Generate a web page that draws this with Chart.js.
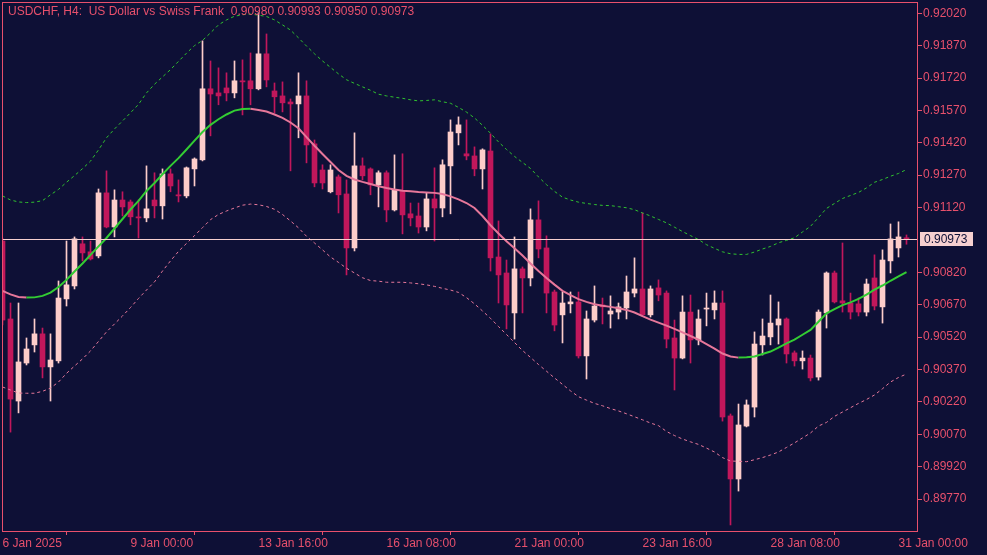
<!DOCTYPE html>
<html>
<head>
<meta charset="utf-8">
<title>USDCHF H4</title>
<script src="https://cdn.jsdelivr.net/npm/chart.js@4.4.1/dist/chart.umd.min.js"></script>
<style>
  html, body { margin: 0; padding: 0; background: #0e1036; }
  canvas { display: block; }
</style>
</head>
<body>
<canvas id="chart" width="987" height="555"></canvas>
<script>
// header text shown in the top left corner
const title = 'USDCHF, H4:  US Dollar vs Swiss Frank  0.90980 0.90993 0.90950 0.90973';

// H4 bars, 6 Jan 2025 08:00 .. 31 Jan 2025 04:00 (one value per bar)
const open = [
  0.90965, 0.90604, 0.90224, 0.90400, 0.90484, 0.90535, 0.90382, 0.90410, 0.90697, 0.90757,
  0.90952, 0.90915, 0.90896, 0.91188, 0.91030, 0.91155, 0.91146, 0.91077, 0.91072, 0.91155,
  0.91128, 0.91276, 0.91179, 0.91174, 0.91299, 0.91341, 0.91670, 0.91651, 0.91674, 0.91651,
  0.91707, 0.91707, 0.91670, 0.91832, 0.91660, 0.91637, 0.91609, 0.91600, 0.91637, 0.91415,
  0.91294, 0.91193, 0.91262, 0.91183, 0.90933, 0.91313, 0.91299, 0.91225, 0.91281, 0.91109,
  0.91197, 0.91091, 0.91081, 0.91030, 0.91160, 0.91118, 0.91313, 0.91466, 0.91369, 0.91359,
  0.91299, 0.91382, 0.90891, 0.90817, 0.90632, 0.90836, 0.90794, 0.91063, 0.90933, 0.90729,
  0.90623, 0.90674, 0.90683, 0.90433, 0.90599, 0.90669, 0.90627, 0.90636, 0.90655, 0.90724,
  0.90743, 0.90623, 0.90748, 0.90724, 0.90516, 0.90423, 0.90636, 0.90507, 0.90650, 0.90646,
  0.90678, 0.90155, 0.89863, 0.90108, 0.90196, 0.90484, 0.90521, 0.90576, 0.90604, 0.90447,
  0.90410, 0.90423, 0.90335, 0.90632, 0.90817, 0.90688, 0.90678, 0.90674, 0.90636, 0.90794,
  0.90660, 0.90873, 0.90933, 0.90980
];
const high = [
  0.90979, 0.90678, 0.90678, 0.90516, 0.90604, 0.90562, 0.90535, 0.90780, 0.90965, 0.90984,
  0.90984, 0.90965, 0.91206, 0.91290, 0.91202, 0.91193, 0.91155, 0.91155, 0.91313, 0.91281,
  0.91299, 0.91299, 0.91248, 0.91308, 0.91350, 0.91892, 0.91799, 0.91767, 0.91744, 0.91799,
  0.91804, 0.91836, 0.92022, 0.91924, 0.91697, 0.91702, 0.91623, 0.91744, 0.91707, 0.91433,
  0.91318, 0.91318, 0.91271, 0.91248, 0.91466, 0.91350, 0.91304, 0.91290, 0.91290, 0.91364,
  0.91369, 0.91141, 0.91141, 0.91188, 0.91304, 0.91341, 0.91526, 0.91540, 0.91526, 0.91401,
  0.91392, 0.91461, 0.91058, 0.90877, 0.90984, 0.90845, 0.91114, 0.91151, 0.90989, 0.90738,
  0.90729, 0.90729, 0.90729, 0.90641, 0.90757, 0.90701, 0.90711, 0.90678, 0.90803, 0.90887,
  0.91095, 0.90757, 0.90785, 0.90734, 0.90599, 0.90711, 0.90715, 0.90646, 0.90724, 0.90734,
  0.90734, 0.90164, 0.90210, 0.90229, 0.90544, 0.90604, 0.90715, 0.90683, 0.90609, 0.90456,
  0.90456, 0.90437, 0.90646, 0.90822, 0.90826, 0.90956, 0.90724, 0.90701, 0.90789, 0.90901,
  0.90924, 0.91044, 0.91054, 0.90993
];
const low = [
  0.90576, 0.90080, 0.90169, 0.90391, 0.90451, 0.90331, 0.90224, 0.90400, 0.90664, 0.90743,
  0.90873, 0.90877, 0.90887, 0.91026, 0.90984, 0.91081, 0.91040, 0.90979, 0.91054, 0.91072,
  0.91067, 0.91193, 0.91146, 0.91165, 0.91220, 0.91336, 0.91452, 0.91596, 0.91614, 0.91628,
  0.91549, 0.91596, 0.91665, 0.91679, 0.91558, 0.91563, 0.91290, 0.91443, 0.91327, 0.91216,
  0.91206, 0.91188, 0.91095, 0.90808, 0.90919, 0.91248, 0.91179, 0.91123, 0.91054, 0.91104,
  0.90998, 0.91035, 0.91002, 0.91012, 0.90965, 0.91077, 0.91091, 0.91410, 0.91341, 0.91267,
  0.91206, 0.90826, 0.90678, 0.90558, 0.90511, 0.90632, 0.90757, 0.90887, 0.90632, 0.90549,
  0.90493, 0.90632, 0.90423, 0.90326, 0.90590, 0.90581, 0.90562, 0.90604, 0.90604, 0.90706,
  0.90618, 0.90613, 0.90688, 0.90470, 0.90275, 0.90419, 0.90400, 0.90484, 0.90572, 0.90604,
  0.90131, 0.89650, 0.89807, 0.90104, 0.90150, 0.90437, 0.90484, 0.90488, 0.90400, 0.90386,
  0.90372, 0.90317, 0.90321, 0.90562, 0.90678, 0.90636, 0.90604, 0.90618, 0.90618, 0.90646,
  0.90585, 0.90817, 0.90891, 0.90950
];
const close = [
  0.90599, 0.90233, 0.90405, 0.90465, 0.90535, 0.90382, 0.90414, 0.90701, 0.90762, 0.90975,
  0.90910, 0.90882, 0.91188, 0.91030, 0.91155, 0.91123, 0.91077, 0.91072, 0.91114, 0.91128,
  0.91276, 0.91220, 0.91174, 0.91304, 0.91345, 0.91670, 0.91646, 0.91637, 0.91651, 0.91707,
  0.91702, 0.91670, 0.91832, 0.91711, 0.91633, 0.91605, 0.91600, 0.91637, 0.91410, 0.91234,
  0.91234, 0.91294, 0.91179, 0.90933, 0.91313, 0.91267, 0.91225, 0.91281, 0.91109, 0.91202,
  0.91086, 0.91072, 0.91030, 0.91160, 0.91118, 0.91318, 0.91470, 0.91503, 0.91359, 0.91299,
  0.91387, 0.90887, 0.90808, 0.90669, 0.90836, 0.90794, 0.91063, 0.90928, 0.90724, 0.90576,
  0.90678, 0.90683, 0.90433, 0.90604, 0.90664, 0.90660, 0.90641, 0.90660, 0.90729, 0.90743,
  0.90623, 0.90743, 0.90715, 0.90511, 0.90423, 0.90636, 0.90507, 0.90604, 0.90652, 0.90678,
  0.90150, 0.89863, 0.90113, 0.90206, 0.90488, 0.90525, 0.90585, 0.90604, 0.90442, 0.90410,
  0.90423, 0.90331, 0.90636, 0.90817, 0.90683, 0.90678, 0.90636, 0.90636, 0.90766, 0.90664,
  0.90877, 0.90975, 0.90984, 0.90973
];

// centred moving average and its bands
const midLine = [
  0.90734, 0.90718, 0.90706, 0.90703, 0.90704, 0.90711, 0.90726, 0.90752, 0.90785, 0.90824,
  0.90861, 0.90901, 0.90940, 0.90979, 0.91023, 0.91067, 0.91111, 0.91151, 0.91197, 0.91234,
  0.91274, 0.91313, 0.91349, 0.91389, 0.91430, 0.91470, 0.91503, 0.91529, 0.91551, 0.91569,
  0.91576, 0.91578, 0.91572, 0.91565, 0.91551, 0.91535, 0.91514, 0.91487, 0.91446, 0.91406,
  0.91368, 0.91331, 0.91294, 0.91267, 0.91250, 0.91239, 0.91229, 0.91219, 0.91211, 0.91204,
  0.91198, 0.91195, 0.91192, 0.91190, 0.91188, 0.91183, 0.91172, 0.91158, 0.91141, 0.91118,
  0.91081, 0.91038, 0.91000, 0.90964, 0.90932, 0.90898, 0.90861, 0.90826, 0.90794, 0.90763,
  0.90734, 0.90714, 0.90696, 0.90683, 0.90672, 0.90665, 0.90660, 0.90654, 0.90646, 0.90634,
  0.90617, 0.90601, 0.90587, 0.90573, 0.90558, 0.90542, 0.90525, 0.90508, 0.90488, 0.90467,
  0.90444, 0.90430, 0.90425, 0.90427, 0.90430, 0.90442, 0.90453, 0.90471, 0.90491, 0.90508,
  0.90531, 0.90553, 0.90591, 0.90630, 0.90650, 0.90668, 0.90681, 0.90697, 0.90717, 0.90740,
  0.90759, 0.90781, 0.90801, 0.90821
];
const upperBand = [
  0.91174, 0.91155, 0.91146, 0.91143, 0.91145, 0.91152, 0.91179, 0.91204, 0.91237, 0.91268,
  0.91300, 0.91335, 0.91387, 0.91443, 0.91484, 0.91521, 0.91559, 0.91598, 0.91651, 0.91691,
  0.91725, 0.91759, 0.91797, 0.91835, 0.91870, 0.91894, 0.91929, 0.91966, 0.91989, 0.92006,
  0.92013, 0.92016, 0.92011, 0.92005, 0.91989, 0.91966, 0.91942, 0.91906, 0.91868, 0.91832,
  0.91799, 0.91769, 0.91739, 0.91712, 0.91695, 0.91679, 0.91663, 0.91645, 0.91637, 0.91631,
  0.91626, 0.91619, 0.91614, 0.91616, 0.91619, 0.91610, 0.91603, 0.91584, 0.91562, 0.91535,
  0.91501, 0.91464, 0.91424, 0.91389, 0.91357, 0.91329, 0.91301, 0.91262, 0.91226, 0.91195,
  0.91168, 0.91155, 0.91145, 0.91139, 0.91134, 0.91130, 0.91129, 0.91124, 0.91119, 0.91110,
  0.91095, 0.91081, 0.91065, 0.91049, 0.91029, 0.91009, 0.90990, 0.90972, 0.90948, 0.90931,
  0.90915, 0.90906, 0.90903, 0.90903, 0.90914, 0.90928, 0.90940, 0.90957, 0.90968, 0.90980,
  0.91007, 0.91033, 0.91074, 0.91116, 0.91139, 0.91162, 0.91176, 0.91190, 0.91211, 0.91237,
  0.91250, 0.91265, 0.91278, 0.91296
];
const lowerBand = [
  0.90289, 0.90275, 0.90261, 0.90260, 0.90260, 0.90269, 0.90284, 0.90312, 0.90352, 0.90386,
  0.90419, 0.90456, 0.90500, 0.90544, 0.90581, 0.90618, 0.90657, 0.90699, 0.90738, 0.90776,
  0.90826, 0.90873, 0.90917, 0.90954, 0.90990, 0.91027, 0.91064, 0.91088, 0.91104, 0.91118,
  0.91131, 0.91136, 0.91133, 0.91125, 0.91112, 0.91088, 0.91058, 0.91026, 0.90987, 0.90956,
  0.90924, 0.90891, 0.90866, 0.90839, 0.90817, 0.90795, 0.90782, 0.90779, 0.90774, 0.90774,
  0.90774, 0.90771, 0.90767, 0.90762, 0.90755, 0.90746, 0.90738, 0.90727, 0.90703, 0.90674,
  0.90641, 0.90607, 0.90569, 0.90532, 0.90495, 0.90458, 0.90426, 0.90393, 0.90362, 0.90331,
  0.90301, 0.90271, 0.90244, 0.90228, 0.90213, 0.90202, 0.90189, 0.90178, 0.90165, 0.90151,
  0.90137, 0.90122, 0.90110, 0.90083, 0.90064, 0.90048, 0.90035, 0.90023, 0.90006, 0.89988,
  0.89962, 0.89946, 0.89945, 0.89943, 0.89952, 0.89962, 0.89974, 0.89988, 0.90009, 0.90030,
  0.90053, 0.90076, 0.90108, 0.90125, 0.90153, 0.90173, 0.90193, 0.90213, 0.90231, 0.90252,
  0.90281, 0.90312, 0.90333, 0.90349
];

// axis labels
const xTickBars = [0, 16, 32, 48, 64, 80, 96, 112];
const xTickLabels = ['6 Jan 2025', '9 Jan 00:00', '13 Jan 16:00', '16 Jan 08:00',
  '21 Jan 00:00', '23 Jan 16:00', '28 Jan 08:00', '31 Jan 00:00'];
const yTicks = [0.92020, 0.91870, 0.91720, 0.91570, 0.91420, 0.91270, 0.91120,
  0.90820, 0.90670, 0.90520, 0.90370, 0.90220, 0.90070, 0.89920, 0.89770];
const lastPrice = 0.90973;

// colours
const BG = '#0e1036';
const AXIS = '#e8506c';
const BULL = '#fdcdca';
const BEAR = '#c1175b';
const MID_UP = '#33cc33';
const MID_DOWN = '#e6779a';
const BAND_UP = '#2fc22f';
const BAND_DOWN = '#e6779a';
const BID_LINE = '#f6d0d0';

Chart.defaults.font.family = "'Liberation Sans', Arial, sans-serif";
Chart.defaults.font.size = 12;
Chart.defaults.color = AXIS;

const idx = open.map((v, i) => i);
const barColors = idx.map(i => close[i] >= open[i] ? BULL : BEAR);

const chartDecor = {
  id: 'chartDecor',
  beforeDraw(chart) {
    const c = chart.ctx;
    c.save();
    c.fillStyle = BG;
    c.fillRect(0, 0, chart.width, chart.height);
    c.restore();
  },
  afterDatasetsDraw(chart) {
    const c = chart.ctx;
    const a = chart.chartArea;
    const py = Math.round(chart.scales.y.getPixelForValue(lastPrice)) + 0.5;
    c.save();
    c.lineWidth = 1;
    c.strokeStyle = BID_LINE;
    c.beginPath();
    c.moveTo(a.left, py);
    c.lineTo(a.right, py);
    c.stroke();
    // frame
    c.strokeStyle = AXIS;
    c.strokeRect(a.left + 0.5, a.top + 0.5, a.right - a.left, a.bottom - a.top);
    c.restore();
  },
  afterDraw(chart) {
    const c = chart.ctx;
    const a = chart.chartArea;
    const py = Math.round(chart.scales.y.getPixelForValue(lastPrice));
    c.save();
    // last price tag
    c.fillStyle = BID_LINE;
    c.fillRect(a.right + 3, py - 7, 53, 14);
    c.fillStyle = BG;
    c.font = "12px 'Liberation Sans', Arial, sans-serif";
    c.textBaseline = 'middle';
    c.fillText(lastPrice.toFixed(5), a.right + 7, py + 0.5);
    // header
    c.fillStyle = AXIS;
    c.fillText(title, 8, 12);
    c.restore();
  }
};

new Chart(document.getElementById('chart'), {
  data: {
    datasets: [
      {
        type: 'line',
        label: 'mid',
        data: idx.map(i => ({ x: i, y: midLine[i] })),
        borderWidth: 2,
        pointRadius: 0,
        tension: 0,
        borderColor: MID_UP,
        segment: {
          borderColor: ctx => ctx.p1.parsed.y >= ctx.p0.parsed.y ? MID_UP : MID_DOWN
        },
        order: 0
      },
      {
        type: 'line',
        label: 'upper',
        data: idx.map(i => ({ x: i, y: upperBand[i] })),
        borderWidth: 1,
        borderDash: [3, 3],
        pointRadius: 0,
        borderColor: BAND_UP,
        order: 0
      },
      {
        type: 'line',
        label: 'lower',
        data: idx.map(i => ({ x: i, y: lowerBand[i] })),
        borderWidth: 1,
        borderDash: [3, 3],
        pointRadius: 0,
        borderColor: BAND_DOWN,
        order: 0
      },
      {
        type: 'bar',
        label: 'bodies',
        data: idx.map(i => ({ x: i, y: [open[i], close[i]] })),
        backgroundColor: barColors,
        barThickness: 5,
        minBarLength: 1,
        grouped: false,
        borderWidth: 0,
        order: 1
      },
      {
        type: 'bar',
        label: 'wicks',
        data: idx.map(i => ({ x: i, y: [low[i], high[i]] })),
        backgroundColor: barColors,
        barThickness: 1,
        grouped: false,
        borderWidth: 0,
        order: 2
      }
    ]
  },
  options: {
    responsive: false,
    animation: false,
    events: [],
    layout: { padding: { left: 2, top: 2, right: 0, bottom: 0 } },
    plugins: {
      legend: { display: false },
      tooltip: { enabled: false },
      title: { display: false }
    },
    scales: {
      x: {
        type: 'linear',
        position: 'bottom',
        min: -0.0625,
        max: 114.3125,
        offset: false,
        border: { display: false },
        grid: { drawOnChartArea: false, drawTicks: true, tickLength: 4, color: AXIS },
        afterBuildTicks: scale => { scale.ticks = xTickBars.map(v => ({ value: v })); },
        afterFit: scale => {
          scale.height = 24;
          scale.paddingLeft = 0;
          scale.paddingRight = 0;
        },
        ticks: {
          autoSkip: false,
          maxRotation: 0,
          align: 'start',
          padding: 1,
          color: AXIS,
          callback: (v, i) => xTickLabels[i]
        }
      },
      y: {
        type: 'linear',
        position: 'right',
        min: 0.89622,
        max: 0.92072,
        border: { display: false },
        grid: { drawOnChartArea: false, drawTicks: true, tickLength: 5, color: AXIS },
        afterBuildTicks: scale => { scale.ticks = yTicks.map(v => ({ value: v })); },
        afterFit: scale => {
          scale.width = 70;
          scale.paddingTop = 0;
          scale.paddingBottom = 0;
        },
        ticks: {
          padding: 1,
          color: AXIS,
          callback: v => v.toFixed(5)
        }
      }
    }
  },
  plugins: [chartDecor]
});
</script>
</body>
</html>
